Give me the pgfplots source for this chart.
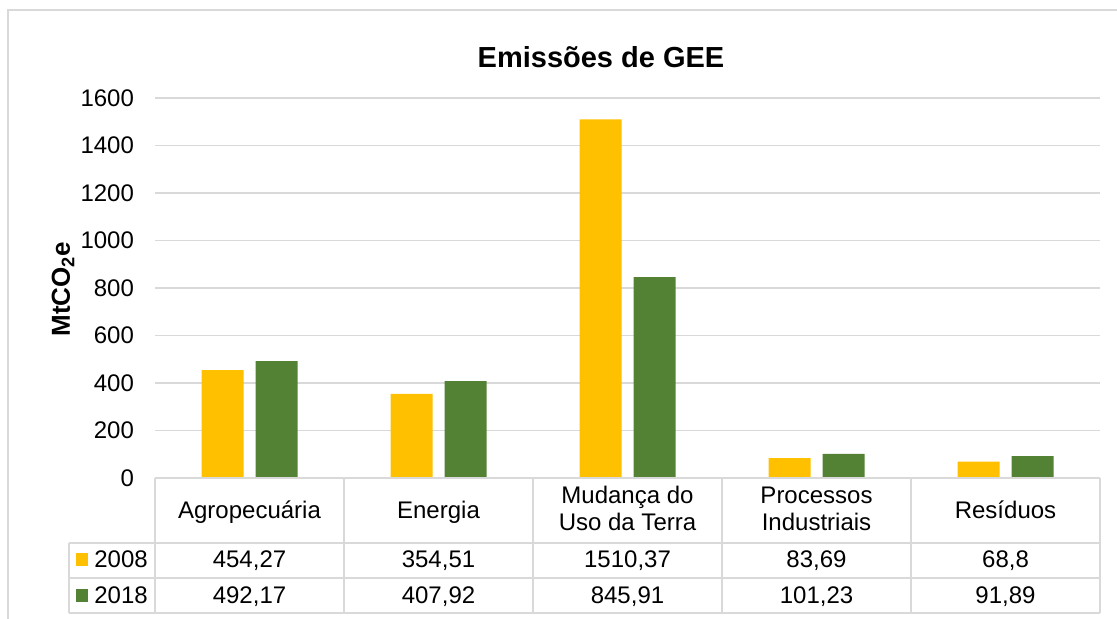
\documentclass[border=0pt]{standalone}
\usepackage{pgfplots}
\pgfplotsset{compat=1.18}
\usepackage{fontspec}
\setmainfont{Liberation Sans}
\definecolor{cyel}{HTML}{FFC000}
\definecolor{cgrn}{HTML}{548235}
\definecolor{cgrid}{HTML}{D9D9D9}
\begin{document}
\begin{tikzpicture}[x=0.5pt,y=-0.5pt]
\useasboundingbox (0,0) rectangle (1117,619);
% outer chart border
\draw[cgrid, line width=1pt] (8,625) -- (8,10) -- (1125,10);
\begin{axis}[
  at={(77.5pt,-239pt)}, anchor=south west,
  scale only axis, width=472.5pt, height=190pt,
  xmin=-0.5, xmax=4.5, ymin=0, ymax=1600,
  ytick={0,200,...,1600}, xtick=\empty,
  ymajorgrids, grid style={cgrid, line width=0.75pt},
  axis line style={draw=none}, tick style={draw=none},
  /pgf/number format/1000 sep={},
  /pgf/number format/assume math mode=true,
  yticklabel style={font=\fontsize{12}{14}\selectfont, xshift=-7pt},
  ybar, bar width=21pt,
  clip=false,
]
\addplot[fill=cyel, draw=none, bar shift=-13.5pt] coordinates {(0,454.27) (1,354.51) (2,1510.37) (3,83.69) (4,68.8)};
\addplot[fill=cgrn, draw=none, bar shift=13.5pt] coordinates {(0,492.17) (1,407.92) (2,845.91) (3,101.23) (4,91.89)};
\end{axis}
% title and y label
\node[font=\bfseries\fontsize{14.5}{16}\selectfont] at (601,57) {Emissões de GEE};
\node[font=\bfseries\fontsize{13}{15}\selectfont, rotate=90] at (63,289) {MtCO\textsubscript{2}e};
% data table
\begin{scope}[cgrid, line width=0.75pt]
\draw (155,478) -- (1100,478);
\draw (69,543) -- (1100,543);
\draw (69,578) -- (1100,578);
\draw (69,613) -- (1100,613);
\foreach \xx in {155,344,533,722,911,1100} {\draw (\xx,478) -- (\xx,613);}
\draw (69,543) -- (69,613);
\end{scope}
\begin{scope}[every node/.style={font=\fontsize{12}{13.5}\selectfont, inner sep=0pt, anchor=base}]
\node at (249.5,518) {Agropecuária};
\node at (438.5,518) {Energia};
\node at (627.5,503) {Mudança do};
\node at (627.5,530) {Uso da Terra};
\node at (816.5,503) {Processos};
\node at (816.5,530) {Industriais};
\node at (1005.5,518) {Resíduos};
\node at (249.5,567) {454,27};
\node at (438.5,567) {354,51};
\node at (627.5,567) {1510,37};
\node at (816.5,567) {83,69};
\node at (1005.5,567) {68,8};
\node at (249.5,603) {492,17};
\node at (438.5,603) {407,92};
\node at (627.5,603) {845,91};
\node at (816.5,603) {101,23};
\node at (1005.5,603) {91,89};
\node[anchor=base west] at (94,567) {2008};
\node[anchor=base west] at (94,603) {2018};
\end{scope}
\fill[cyel] (76,553) rectangle (88,566);
\fill[cgrn] (76,589) rectangle (88,602);
\end{tikzpicture}
\end{document}
